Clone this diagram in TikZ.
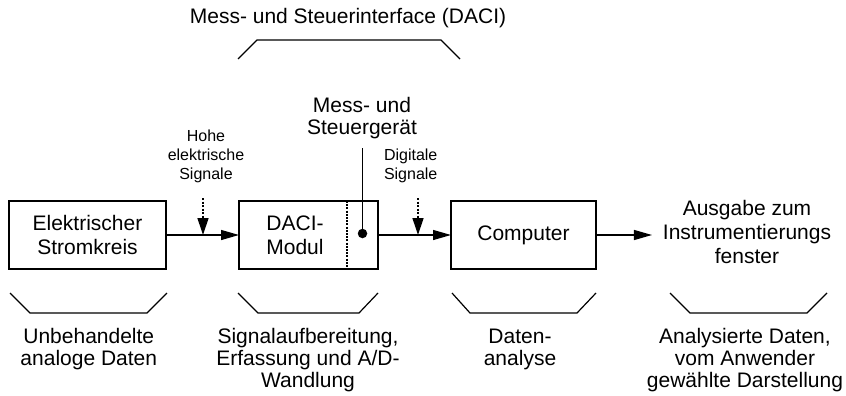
\documentclass[tikz,border=0pt]{standalone}
\usepackage{fontspec}
\setmainfont{Liberation Sans}
\usetikzlibrary{arrows.meta}
\begin{document}
\begin{tikzpicture}[x=1pt,y=-1pt,
  lw/.style={line width=1.3pt},
  blockbox/.style={draw,lw,rectangle,inner sep=0pt,outer sep=0pt,minimum height=68pt,align=center,font=\fontsize{21}{24}\selectfont},
  bigtext/.style={inner sep=0pt,outer sep=0pt,align=center,font=\fontsize{21}{21.7}\selectfont},
  smalltext/.style={inner sep=0pt,outer sep=0pt,align=center,font=\fontsize{16}{19}\selectfont},
  flow/.style={lw,-{Triangle[length=18pt,width=10pt]}},
  hint/.style={lw,dash pattern=on 2pt off 1.5pt,-{Triangle[length=17pt,width=11pt]}},
  bracket/.style={line width=1.2pt}]
\useasboundingbox (0,0) rectangle (846,396);

% title
\node[bigtext,anchor=base] (title) at (348,24) {Mess- und Steuerinterface (DACI)};
\draw[bracket] (238,59) -- (257,40) -- (441,40) -- (460,59);

% blocks
\node[blockbox,minimum width=157pt] (elek) at (87.5,235) {Elektrischer\\Stromkreis};
\node[blockbox,minimum width=139pt] (daci) at (308.5,235) {};
\node[inner sep=0pt,align=center,font=\fontsize{21}{24}\selectfont] (dacitext) at (295,235) {DACI-\\Modul};
\node[blockbox,minimum width=145pt] (comp) at (523.5,235) {Computer};
\node[inner xsep=11pt,inner ysep=0pt,outer sep=0pt,align=center,font=\fontsize{21}{24}\selectfont,anchor=center] (out) at (747,232.4) {Ausgabe zum\\Instrumentierungs\\fenster};

% divider inside DACI block
\draw[lw,dash pattern=on 2pt off 1.2pt] ([xshift=108pt]daci.north west) coordinate (dtop) -- ([xshift=108pt]daci.south west) coordinate (dbot);

% flow arrows
\draw[flow] (elek.east) -- (daci.west);
\draw[flow] (daci.east) -- (comp.west);
\draw[flow] (comp.east) -- (out.west |- comp.east);

% hint labels and dotted arrows
\node[smalltext] (hohe) at (206,156.5) {Hohe\\elektrische\\Signale};
\coordinate (h1s) at (203,198);
\coordinate (h1e) at (203,235);
\draw[hint] (h1s) -- (h1e);

\node[smalltext] (digi) at (410.7,166) {Digitale\\Signale};
\coordinate (h2s) at (418,198);
\coordinate (h2e) at (418,235);
\draw[hint] (h2s) -- (h2e);

% measurement device
\node[bigtext,font=\fontsize{21}{22.3}\selectfont] (mess) at (362,118.4) {Mess- und\\Steuergerät};
\coordinate (mtop) at (362.5,148);
\node[circle,fill,inner sep=0pt,minimum size=9.5pt] (dot) at (362.5,233.5) {};
\draw[lw] (mtop) -- (dot.center);

% bottom brackets
\draw[bracket] (10,293) -- (30,313) -- (147,313) -- (167,293);
\draw[bracket] (238,293) -- (258,313) -- (359,313) -- (378,293);
\draw[bracket] (452,293) -- (470,313) -- (577,313) -- (596,293);
\draw[bracket] (670,293) -- (690,313) -- (807,313) -- (827,293);

% bottom labels
\node[bigtext] (l1) at (88.8,349.4) {Unbehandelte\\analoge Daten};
\node[bigtext] (l2) at (308,360.2) {Signalaufbereitung,\\Erfassung und A/D-\\Wandlung};
\node[bigtext] (l3) at (520,349.5) {Daten-\\analyse};
\node[bigtext] (l4) at (745,360.2) {Analysierte Daten,\\vom Anwender\\gewählte Darstellung};
\end{tikzpicture}
\end{document}
